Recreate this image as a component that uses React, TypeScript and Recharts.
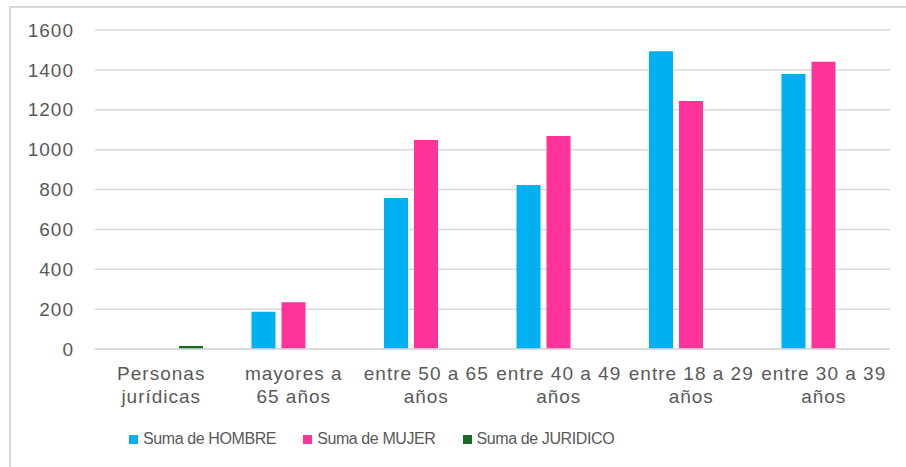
import React from 'react';
import { BarChart, Bar, XAxis, YAxis, CartesianGrid } from 'recharts';

// tick labels, "\n" marks where the label wraps
const categories = [
  'Personas\njurídicas',
  'mayores a\n65 años',
  'entre 50 a 65\naños',
  'entre 40 a 49\naños',
  'entre 18 a 29\naños',
  'entre 30 a 39\naños',
];
const hombre = [0, 187, 757, 822, 1494, 1379];
const mujer = [0, 234, 1048, 1068, 1244, 1441];
const juridico = [15, 0, 0, 0, 0, 0];
const yTicks = [0, 200, 400, 600, 800, 1000, 1200, 1400, 1600];

const series = [
  { key: 'hombre', name: 'Suma de HOMBRE', color: '#00B0F0' },
  { key: 'mujer', name: 'Suma de MUJER', color: '#FF3399' },
  { key: 'juridico', name: 'Suma de JURIDICO', color: '#196B24' },
];

const data = categories.map((name, i) => ({
  name,
  hombre: hombre[i],
  mujer: mujer[i],
  juridico: juridico[i],
}));

const FONT = '"Liberation Sans", Arial, sans-serif';
const TEXT = '#595959';

const CategoryTick = (props: any) => {
  const { x, y, payload } = props;
  const lines = String(payload.value).split('\n');
  return (
    <text x={x} y={y} textAnchor="middle" fill={TEXT} fontSize={19} fontFamily={FONT} letterSpacing={1}>
      {lines.map((l, i) => (
        <tspan key={i} x={x} y={y + 23 + i * 23}>{l}</tspan>
      ))}
    </text>
  );
};

const App: React.FC = () => {
  return (
    <div style={{ position: 'absolute', left: 0, top: 0, width: 906, height: 467, background: '#fff' }}>
      <div
        style={{
          position: 'absolute', left: 9, top: 6, width: 897, height: 461,
          borderLeft: '2px solid #d9d9d9', borderTop: '2px solid #d9d9d9', boxSizing: 'border-box',
        }}
      />
      <div style={{ position: 'absolute', left: 0, top: 0 }}>
        <BarChart
          width={906}
          height={467}
          data={data}
          margin={{ top: 30, right: 16, left: 15, bottom: 48 }}
          barSize={24}
          barGap={6}
        >
          <CartesianGrid vertical={false} stroke="#d9d9d9" strokeWidth={1.5} />
          <XAxis
            dataKey="name"
            height={70}
            tickLine={false}
            axisLine={{ stroke: '#d9d9d9', strokeWidth: 1.5 }}
            tick={<CategoryTick />}
            interval={0}
          />
          <YAxis
            width={80}
            domain={[0, 1600]}
            ticks={yTicks}
            axisLine={false}
            tickLine={false}
            tickMargin={15}
            tick={{ fill: TEXT, fontSize: 19, fontFamily: FONT, letterSpacing: 1 }}
          />
          {series.map(s => (
            <Bar key={s.key} dataKey={s.key} name={s.name} fill={s.color} isAnimationActive={false} />
          ))}
        </BarChart>
      </div>
      <div style={{ position: 'absolute', left: 129, top: 430, display: 'flex', alignItems: 'center', fontFamily: FONT, fontSize: 16, letterSpacing: -0.4, color: TEXT }}>
        {series.map(s => (
          <div key={s.key} style={{ display: 'flex', alignItems: 'center', marginRight: 27 }}>
            <div style={{ width: 9, height: 9, background: s.color, marginRight: 5 }} />
            <span>{s.name}</span>
          </div>
        ))}
      </div>
    </div>
  );
};

export default App;
